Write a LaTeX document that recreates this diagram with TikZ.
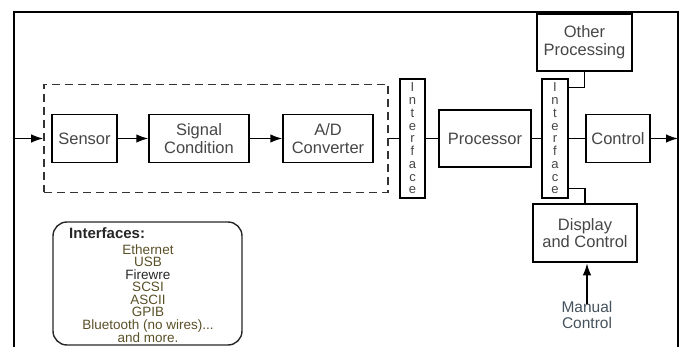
\documentclass[tikz,border=0pt]{standalone}
\usepackage{fontspec}
\setmainfont{Liberation Sans}
\usetikzlibrary{arrows.meta,calc}
\definecolor{txt}{RGB}{70,70,70}
\definecolor{olivetxt}{RGB}{90,80,40}
\definecolor{mantxt}{RGB}{70,82,92}
\tikzset{
  blk/.style={draw=black, line width=1.4pt, text=txt, align=center, inner sep=0pt,
    font=\fontsize{16.5}{18}\selectfont},
  thickblk/.style={blk, line width=2.6pt},
  ifc/.style={draw=black, line width=1.4pt, text=txt, align=center, inner sep=0pt,
    minimum width=25pt, minimum height=119pt, font=\fontsize{13}{12.75}\selectfont},
  dashbox/.style={draw=black!80, line width=1.6pt, dash pattern=on 8pt off 5pt, inner sep=0pt},
  arr/.style={line width=1.4pt, -{Latex[length=12pt,width=8.5pt]}},
  con/.style={line width=1.4pt},
}
\begin{document}
\begin{tikzpicture}[x=1pt,y=-1pt]
\useasboundingbox (0,0) rectangle (683,347);
% frame
\draw[line width=2.4pt] (14,347) -- (14,12);
\draw[line width=1.6pt] (13,12) -- (678,12) -- (678,347);
% dashed group
\node[dashbox, minimum width=344pt, minimum height=108pt] (grp) at (216,138.5) {};
\node[blk, minimum width=65pt, minimum height=48pt] (sensor) at (84.5,138.5) {Sensor};
\node[blk, minimum width=100pt, minimum height=48pt] (signal) at (199,138.5) {Signal\\Condition};
\node[blk, minimum width=90pt, minimum height=48pt] (adc) at (328,138.5) {A/D\\Converter};
% interfaces
\node[ifc] (if1) at (412.5,138.5) {I\\n\\t\\e\\r\\f\\a\\c\\e};
\node[blk, minimum width=92pt, minimum height=57pt] (proc) at (485,138.5) {Processor};
\node[ifc, minimum width=26pt] (if2) at (555,138.5) {I\\n\\t\\e\\r\\f\\a\\c\\e};
\node[blk, minimum width=64pt, minimum height=48pt] (ctrl) at (618,138.5) {Control};
\node[thickblk, minimum width=95pt, minimum height=57pt] (other) at (584.5,42.5) {Other\\Processing};
\node[thickblk, minimum width=104pt, minimum height=58pt, font=\fontsize{16.5}{16.5}\selectfont] (disp) at (585,233) {Display\\and Control};
\node[text=mantxt, align=center, inner sep=0pt, font=\fontsize{15.5}{16}\selectfont] (manual) at (587,315) {Manual\\Control};
% coordinates
\coordinate (in) at (14,138.5);
\coordinate (out) at (678,138.5);
% connectors
\draw[arr] (in) -- (grp.west);
\draw[arr] (sensor.east) -- (signal.west);
\draw[arr] (signal.east) -- (adc.west);
\draw[con] (grp.east) -- (if1.west);
\draw[con] (if1.east) -- (proc.west);
\draw[con] (proc.east) -- (if2.west);
\draw[con] (if2.east) -- (ctrl.west);
\draw[arr] (ctrl.east) -- (out);
\draw[con] (other.south) |- ($(if2.north east)+(0,9)$);
\draw[con] ($(if2.south east)+(0,-10)$) -| (disp.north);
\draw[arr] ([yshift=-3pt]manual.north) -- (manual.north |- disp.south);
% interfaces legend
\node[draw=black!85, line width=1.4pt, rounded corners=14pt, minimum width=189pt, minimum height=123pt, inner sep=0pt] (legend) at (147.5,283.5) {};
\node[anchor=west, inner sep=0pt, text=black!85, font=\fontsize{15}{15}\selectfont\bfseries] (ltitle) at (69,233) {Interfaces:};
\node[align=center, inner sep=0pt, text=olivetxt, font=\fontsize{13.5}{12.5}\selectfont] (llist) at (148,293.5)
  {Ethernet\\USB\\\textcolor{black!85}{Firewre}\\SCSI\\ASCII\\GPIB\\Bluetooth (no wires)...\\and more.};
\end{tikzpicture}
\end{document}
